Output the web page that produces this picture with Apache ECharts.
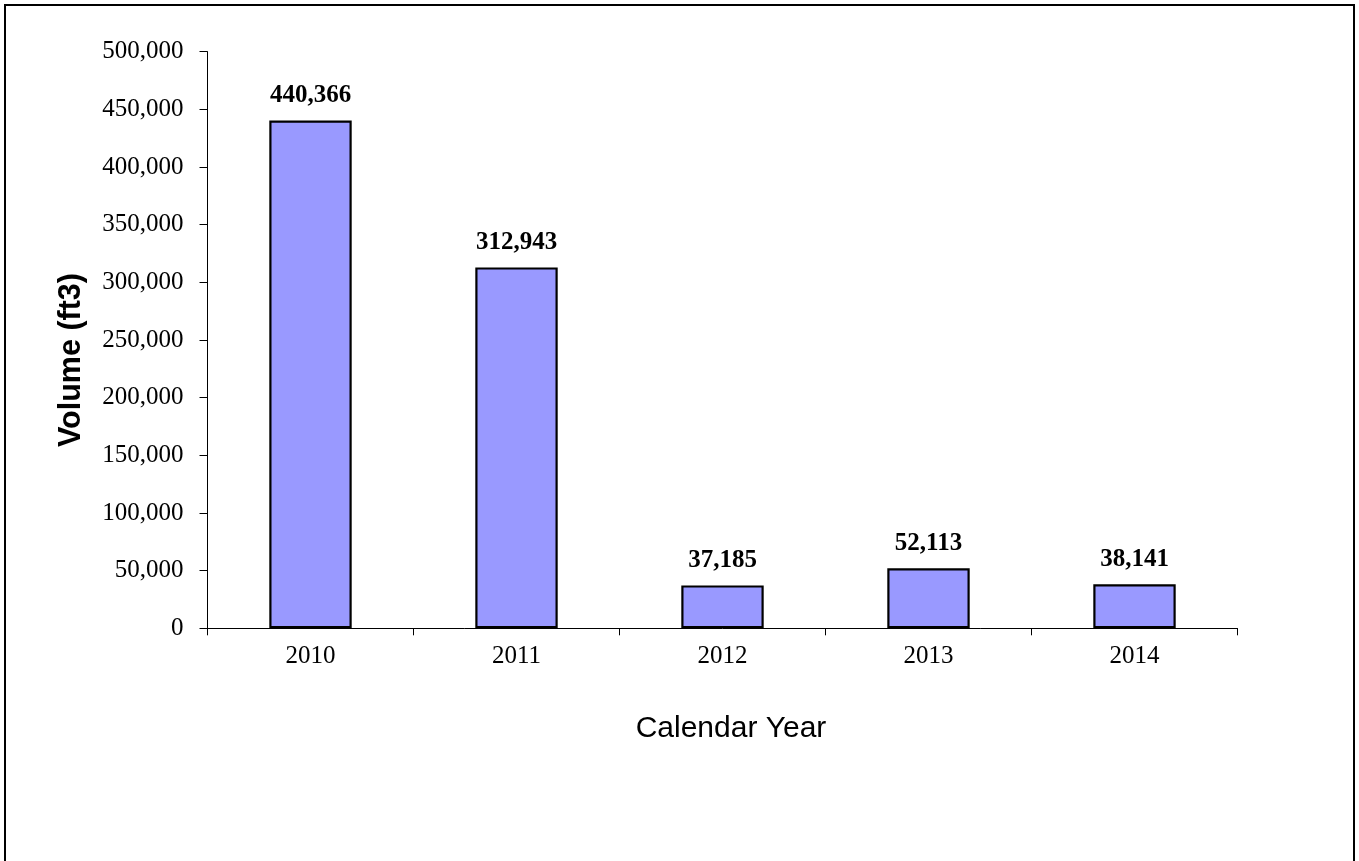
<!DOCTYPE html>
<html>
<head>
<meta charset="utf-8">
<title>Volume by Calendar Year</title>
<script src="https://cdn.jsdelivr.net/npm/echarts@6/dist/echarts.min.js"></script>
<style>
  html, body { margin: 0; padding: 0; background: #fff; }
  #chart { position: absolute; left: 0; top: 0; width: 1359px; height: 861px; }
  #frame {
    position: absolute; left: 4px; top: 4px; width: 1351px; height: 870px;
    border: 2.5px solid #000; box-sizing: border-box; pointer-events: none;
  }
</style>
</head>
<body>
<div id="chart"></div>
<div id="frame"></div>
<script>
// Annual volume, cubic feet
const years = ['2010', '2011', '2012', '2013', '2014'];
const volumes = [440366, 312943, 37185, 52113, 38141];

const yMin = 0;
const yMax = 500000;
const yStep = 50000;

const serif = 'Liberation Serif, Times New Roman, serif';
const sans = 'Liberation Sans, Arial, sans-serif';
const fmt = v => v.toLocaleString('en-US');

const chart = echarts.init(document.getElementById('chart'), null, { renderer: 'canvas' });

chart.setOption({
  backgroundColor: '#ffffff',
  animation: false,
  grid: { left: 207.5, right: 121.5, top: 51.7, bottom: 232.7, containLabel: false },
  xAxis: {
    type: 'category',
    data: years,
    boundaryGap: true,
    axisLine: { show: true, lineStyle: { color: '#000', width: 1 } },
    axisTick: { show: true, length: 7, alignWithLabel: false, lineStyle: { color: '#000', width: 1 } },
    axisLabel: { color: '#000', fontFamily: serif, fontSize: 25, margin: 16 },
    splitLine: { show: false }
  },
  yAxis: {
    type: 'value',
    min: yMin,
    max: yMax,
    interval: yStep,
    axisLine: { show: true, lineStyle: { color: '#000', width: 1 } },
    axisTick: { show: true, length: 8, lineStyle: { color: '#000', width: 1 } },
    axisLabel: { color: '#000', fontFamily: serif, fontSize: 25, margin: 24, formatter: v => fmt(v) },
    splitLine: { show: false }
  },
  series: [{
    type: 'bar',
    data: volumes,
    barWidth: '40%',
    itemStyle: { color: '#9999FF', borderColor: '#000', borderWidth: 2.2 },
    label: {
      show: true,
      position: 'top',
      distance: 12,
      color: '#000',
      fontFamily: serif,
      fontWeight: 'bold',
      fontSize: 25,
      formatter: p => fmt(p.value)
    }
  }],
  graphic: [
    {
      type: 'text',
      x: 731,
      y: 729,
      style: {
        text: 'Calendar Year',
        x: 0, y: 0,
        align: 'center',
        verticalAlign: 'middle',
        fill: '#000',
        font: '30px ' + sans
      }
    },
    {
      type: 'text',
      x: 72,
      y: 360,
      rotation: Math.PI / 2,
      style: {
        text: 'Volume (ft3)',
        x: 0, y: 0,
        align: 'center',
        verticalAlign: 'middle',
        fill: '#000',
        font: 'bold 30.5px ' + sans
      }
    }
  ]
});
</script>
</body>
</html>
